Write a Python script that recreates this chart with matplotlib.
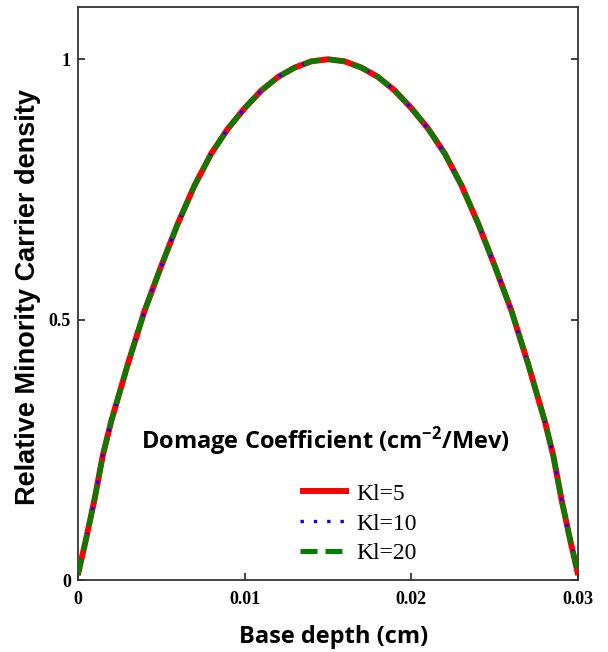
import matplotlib
matplotlib.use('Agg')
import matplotlib.pyplot as plt
from matplotlib.lines import Line2D

# --- data ---
depth = [0.0, 0.0005, 0.001, 0.0015, 0.002, 0.003, 0.004, 0.005, 0.006, 0.007,
         0.008, 0.009, 0.010, 0.011, 0.012, 0.013, 0.014, 0.015,
         0.016, 0.017, 0.018, 0.019, 0.020, 0.021, 0.022, 0.023, 0.024,
         0.025, 0.026, 0.027, 0.028, 0.0285, 0.029, 0.0295, 0.030]
y_kl5 = [0.01, 0.08, 0.155, 0.24, 0.305, 0.415, 0.517, 0.603, 0.685, 0.758,
         0.819, 0.867, 0.906, 0.940, 0.966, 0.984, 0.996, 1.0,
         0.996, 0.984, 0.966, 0.940, 0.906, 0.867, 0.819, 0.758, 0.685,
         0.603, 0.517, 0.415, 0.305, 0.24, 0.155, 0.08, 0.01]
y_kl10 = list(y_kl5)
y_kl20 = list(y_kl5)
labels = ['Kl=5', 'Kl=10', 'Kl=20']

red_style = dict(color='#ff0000', lw=4.3, solid_capstyle='butt')
blue_style = dict(color='#0000ff', lw=2.4, linestyle=(0, (1, 3)))
green_style = dict(color='#008000', lw=3.6, linestyle=(0, (3.4, 1.6)))

fig = plt.figure(figsize=(6.08, 6.52), dpi=100)
ax = fig.add_axes([0.128, 0.110, 0.823, 0.879])

ax.plot(depth, y_kl5, zorder=3, **red_style)
ax.plot(depth, y_kl10, zorder=4, **blue_style)
ax.plot(depth, y_kl20, zorder=5, **green_style)

ax.set_xlim(0, 0.03)
ax.set_ylim(0, 1.1)
ax.set_xticks([0, 0.01, 0.02, 0.03])
ax.set_xticklabels(['0', '0.01', '0.02', '0.03'])
ax.set_yticks([0, 0.5, 1])
ax.set_yticklabels(['0', '0.5', '1'])
ax.tick_params(direction='in', length=5, width=1.2, color='#222222',
               labelsize=13, right=True)
ax.tick_params(axis='x', pad=8)
ax.tick_params(axis='y', pad=5)
for lab in ax.get_xticklabels() + ax.get_yticklabels():
    lab.set_family('Liberation Serif')
    lab.set_fontweight('bold')
for sp in ax.spines.values():
    sp.set_color('#333333')
    sp.set_linewidth(1.3)

ax.set_xlabel('Base depth (cm)', fontfamily='Open Sans', fontweight='bold', fontsize=17)
ax.xaxis.set_label_coords(0.512, -0.078)
ax.set_ylabel('Relative Minority Carrier density', fontfamily='Liberation Sans',
              fontweight='bold', fontsize=19.5)
ax.yaxis.set_label_coords(-0.074, 0.494)

# legend title and entries
ax.text(0.496, 0.243, 'Domage Coefficient (cm$\\mathregular{^{-2}}$/Mev)', transform=ax.transAxes,
        ha='center', va='center', fontfamily='Open Sans', fontweight='bold', fontsize=17)
handles = [Line2D([], [], **red_style),
           Line2D([], [], **blue_style),
           Line2D([], [], **green_style)]
ax.legend(handles, labels, loc='upper left', bbox_to_anchor=(0.42, 0.19),
          frameon=False, borderpad=0, handlelength=2.1, handletextpad=0.3,
          labelspacing=0.35, prop={'family': 'Liberation Serif', 'size': 17})

plt.savefig('out.png', dpi=100)
